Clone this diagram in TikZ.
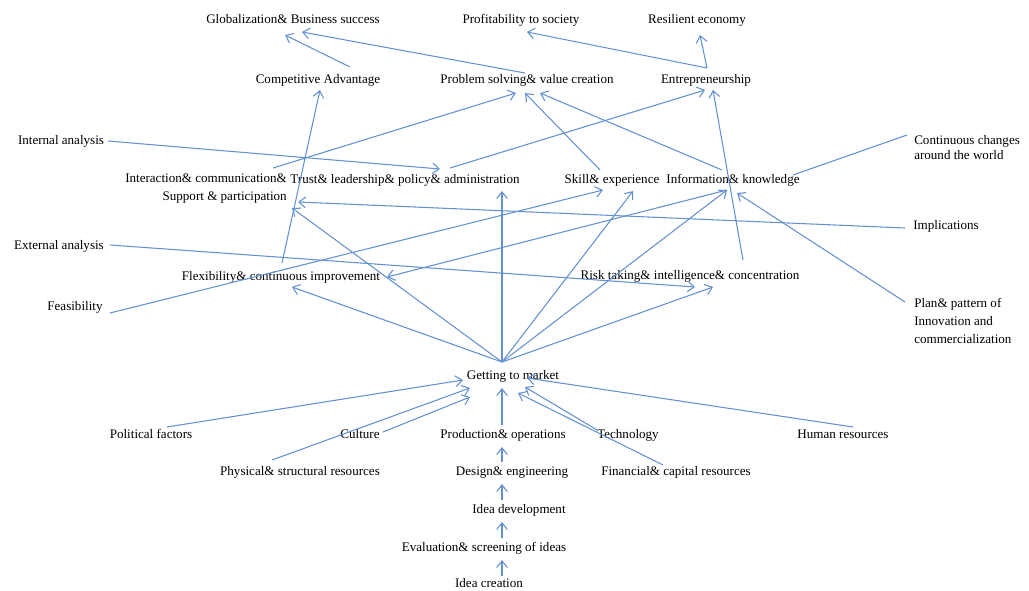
\documentclass[tikz,border=0pt]{standalone}
\usepackage{fontspec}
\setmainfont{Liberation Serif}
\usetikzlibrary{arrows.meta}
\definecolor{edgeblue}{RGB}{100,145,210}
\begin{document}
\begin{tikzpicture}[x=0.75pt,y=-0.75pt,
  lbl/.style={font=\fontsize{9.8}{11.5}\selectfont, inner sep=0pt, text height=7pt, text depth=2pt},
  mlbl/.style={inner sep=0pt},
  conn/.style={draw=edgeblue, line width=0.8pt, -{Straight Barb[length=5pt,width=8pt]}},
  plainconn/.style={draw=edgeblue, line width=0.8pt}]
\useasboundingbox (0,0) rectangle (1029,590);
% top row
\node[lbl] (glob) at (293,20) {Globalization\& Business success};
\node[lbl] (prof) at (521,20) {Profitability to society};
\node[lbl] (resil) at (697,20) {Resilient economy};
% second row
\node[lbl] (comp) at (318,80) {Competitive Advantage};
\node[lbl] (prob) at (527,80) {Problem solving\& value creation};
\node[lbl] (entre) at (706,80) {Entrepreneurship};
% middle
\node[lbl] (intan) at (61,141) {Internal analysis};
\node[mlbl, align=left, anchor=west, font=\fontsize{9.8}{11.25}\selectfont] (cont) at (914,148) {Continuous changes\\around the world};
\node[mlbl, align=right, anchor=east, font=\fontsize{9.8}{13.5}\selectfont] (inter) at (287,189) {Interaction\& communication\&\\Support \& participation};
\node[lbl] (trust) at (405,180) {Trust\& leadership\& policy\& administration};
\node[lbl] (skill) at (612,180) {Skill\& experience};
\node[lbl] (info) at (733,180) {Information\& knowledge};
\node[lbl] (impl) at (946,226) {Implications};
\node[lbl] (extan) at (59,246) {External analysis};
\node[lbl] (flex) at (281,277) {Flexibility\& continuous improvement};
\node[lbl] (risk) at (690,276) {Risk taking\& intelligence\& concentration};
\node[lbl] (feas) at (75,307) {Feasibility};
\node[mlbl, align=left, anchor=west, font=\fontsize{9.8}{13.5}\selectfont] (plan) at (914,321) {Plan\& pattern of\\Innovation and\\commercialization};
\node[lbl] (gtm) at (513,376) {Getting to market};
% bottom
\node[lbl] (pol) at (151,435) {Political factors};
\node[lbl] (cult) at (360,435) {Culture};
\node[lbl] (prod) at (503,435) {Production\& operations};
\node[lbl] (tech) at (628,435) {Technology};
\node[lbl] (hum) at (843,435) {Human resources};
\node[lbl] (phys) at (300,472) {Physical\& structural resources};
\node[lbl] (design) at (512,472) {Design\& engineering};
\node[lbl] (fin) at (676,472) {Financial\& capital resources};
\node[lbl] (ideadev) at (519,510) {Idea development};
\node[lbl] (eval) at (484,548) {Evaluation\& screening of ideas};
\node[lbl] (ideacr) at (489,584) {Idea creation};
% connectors, top part
\draw[conn] ([shift={(32,-13)}]comp.center) -- ([shift={(-8,15)}]glob.center);
\draw[conn] ([shift={(-2,-7)}]prob.center) -- ([shift={(9,12)}]glob.center);
\draw[conn] ([shift={(1,-12)}]entre.center) -- ([shift={(6,12)}]prof.center);
\draw[conn] ([shift={(1,-12)}]entre.center) -- ([shift={(3,15)}]resil.center);
\draw[conn] ([shift={(-14,-21)}]inter.east) -- ([shift={(-11,13)}]prob.center);
\draw[conn] ([shift={(45,-12)}]trust.center) -- ([shift={(-1,10)}]entre.center);
\draw[conn] ([shift={(47,0)}]intan.center) -- ([shift={(35,-11)}]trust.center);
\draw[conn] ([shift={(-12,-10)}]skill.center) -- ([shift={(-2,13)}]prob.center);
\draw[conn] ([shift={(-11,-10)}]info.center) -- ([shift={(13,13)}]prob.center);
\draw[conn] ([shift={(53,-16)}]risk.center) -- ([shift={(7,10)}]entre.center);
\draw[plainconn] ([shift={(-7,-13)}]cont.west) -- ([shift={(60,-5)}]info.center);
\draw[conn] ([shift={(-41,2)}]impl.center) -- ([shift={(11,13)}]inter.east);
\draw[conn] ([shift={(-9,-19)}]plan.west) -- ([shift={(4,13)}]info.center);
\draw[conn] ([shift={(35,6)}]feas.center) -- ([shift={(-9,10)}]skill.center);
\draw[conn] ([shift={(51,-1)}]extan.center) -- ([shift={(5,11)}]risk.center);
\draw[conn] ([shift={(1,-14)}]flex.center) -- ([shift={(2,10)}]comp.center);
\draw[conn] ([shift={(-6,10)}]info.center) -- ([shift={(106,0)}]flex.center);
% from getting to market upwards
\draw[conn] ([shift={(-11,-14)}]gtm.center) -- ([shift={(5,19)}]inter.east);
\draw[conn] ([shift={(-11,-14)}]gtm.center) -- ([shift={(97,11)}]trust.center);
\draw[conn] ([shift={(-11,-14)}]gtm.center) -- ([shift={(11,10)}]flex.center);
\draw[conn] ([shift={(-11,-14)}]gtm.center) -- ([shift={(21,11)}]skill.center);
\draw[conn] ([shift={(-11,-14)}]gtm.center) -- ([shift={(-6,10)}]info.center);
\draw[conn] ([shift={(-11,-14)}]gtm.center) -- ([shift={(23,11)}]risk.center);
% into getting to market
\draw[conn] ([shift={(16,-8)}]pol.center) -- ([shift={(-50,4)}]gtm.center);
\draw[conn] ([shift={(-28,-12)}]phys.center) -- ([shift={(-43,12)}]gtm.center);
\draw[conn] ([shift={(23,-3)}]cult.center) -- ([shift={(-43,21)}]gtm.center);
\draw[conn] ([shift={(-1,-10)}]prod.center) -- ([shift={(-11,12)}]gtm.center);
\draw[conn] ([shift={(-31,-5)}]tech.center) -- ([shift={(12,11)}]gtm.center);
\draw[conn] ([shift={(-13,-7)}]fin.center) -- ([shift={(5,17)}]gtm.center);
\draw[conn] ([shift={(10,-8)}]hum.center) -- ([shift={(14,2)}]gtm.center);
% vertical chain
\draw[conn] ([shift={(-10,-10)}]design.center) -- ([shift={(-1,12)}]prod.center);
\draw[conn] ([shift={(-17,-10)}]ideadev.center) -- ([shift={(-10,12)}]design.center);
\draw[conn] ([shift={(18,-10)}]eval.center) -- ([shift={(-17,12)}]ideadev.center);
\draw[conn] ([shift={(13,-8)}]ideacr.center) -- ([shift={(18,12)}]eval.center);
\end{tikzpicture}
\end{document}
